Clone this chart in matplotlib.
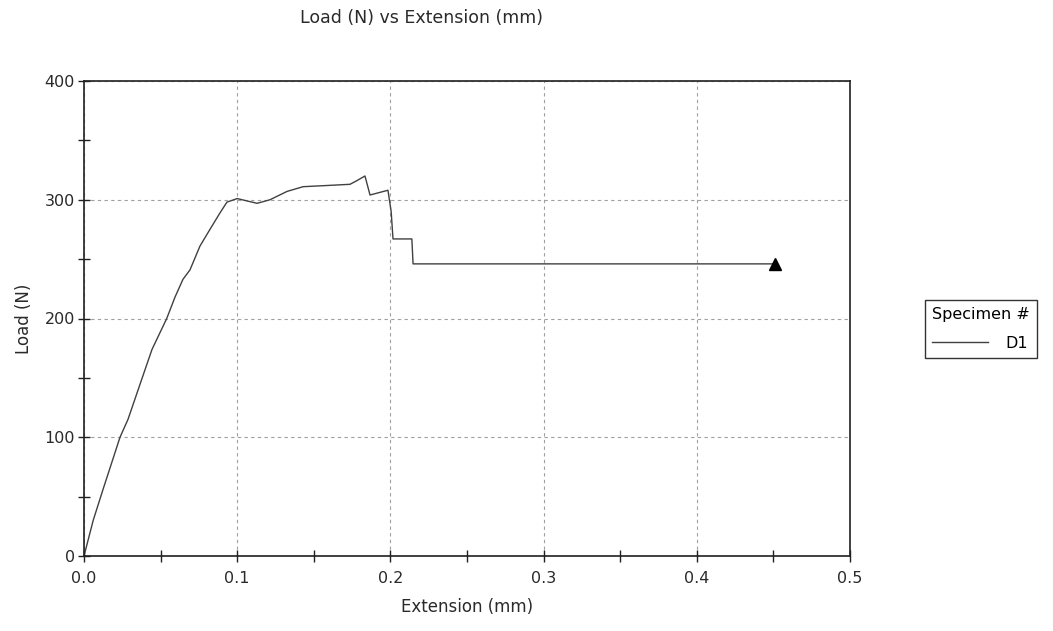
import matplotlib
matplotlib.use("Agg")
import matplotlib.pyplot as plt
from matplotlib.ticker import MultipleLocator

# extension (mm) and load (N)
extension = [0.0, 0.006, 0.0124, 0.0235, 0.0287, 0.038, 0.0444, 0.054, 0.0594,
             0.0646, 0.0692, 0.0757, 0.0822, 0.0888, 0.0933, 0.1, 0.1064, 0.113,
             0.1214, 0.1325, 0.143, 0.1586, 0.1736, 0.178, 0.1834, 0.1867,
             0.1984, 0.2005, 0.2017, 0.214, 0.2148, 0.451]
load = [0, 30, 56, 100, 115, 150, 174, 200, 218,
        233, 241, 261, 275, 289, 298, 301, 299, 297,
        300, 307, 311, 312, 313, 316, 320, 304,
        308, 290, 267, 267, 246, 246]
break_point = (0.451, 246)

plt.rcParams["font.family"] = "DejaVu Sans"
plt.rcParams["font.size"] = 11.5

fig = plt.figure(figsize=(10.53, 6.31), dpi=100)
ax = fig.add_axes([84 / 1053, 1 - 556 / 631, (850 - 84) / 1053, (556 - 81) / 631])

line, = ax.plot(extension, load, color="#404040", lw=1.0, label="D1")
ax.plot(*break_point, marker="^", color="black", markersize=8, linestyle="none")

ax.set_xlim(0, 0.5)
ax.set_ylim(0, 400)
ax.xaxis.set_major_locator(MultipleLocator(0.1))
ax.xaxis.set_minor_locator(MultipleLocator(0.05))
ax.yaxis.set_major_locator(MultipleLocator(100))
ax.yaxis.set_minor_locator(MultipleLocator(50))
ax.xaxis.set_major_formatter(plt.FuncFormatter(lambda v, p: f"{v:.1f}"))
ax.yaxis.set_major_formatter(plt.FuncFormatter(lambda v, p: f"{v:.0f}"))
ax.tick_params(which="both", direction="inout", length=9, width=1, color="#202020",
               labelsize=11.5, labelcolor="#2a2a2a")
ax.tick_params(axis="x", pad=6)
ax.tick_params(axis="y", pad=2)
ax.grid(True, which="major", color="#a0a0a0", linestyle=(0, (3, 3)), lw=0.8)
for s in ax.spines.values():
    s.set_linewidth(1.2)
    s.set_color("#202020")

ax.set_xlabel("Extension (mm)", fontsize=12, color="#2a2a2a", labelpad=9)
ax.set_ylabel("Load (N)", fontsize=12, color="#2a2a2a", labelpad=8)
fig.text(422 / 1053, 1 - 18 / 631, "Load (N) vs Extension (mm)", ha="center", va="center",
         fontsize=12.5, color="#2a2a2a")

leg = ax.legend(handles=[line], title="Specimen #", loc="upper left",
                bbox_to_anchor=(925 / 1053, 1 - 300 / 631), bbox_transform=fig.transFigure,
                borderaxespad=0, frameon=True, fancybox=False, edgecolor="black",
                handlelength=3.5, handletextpad=1.1, fontsize=11.5, title_fontsize=11.5,
                alignment="left", borderpad=0.45, labelspacing=0.85)
leg.get_frame().set_linewidth(1.0)

fig.savefig("out.png", dpi=100)
